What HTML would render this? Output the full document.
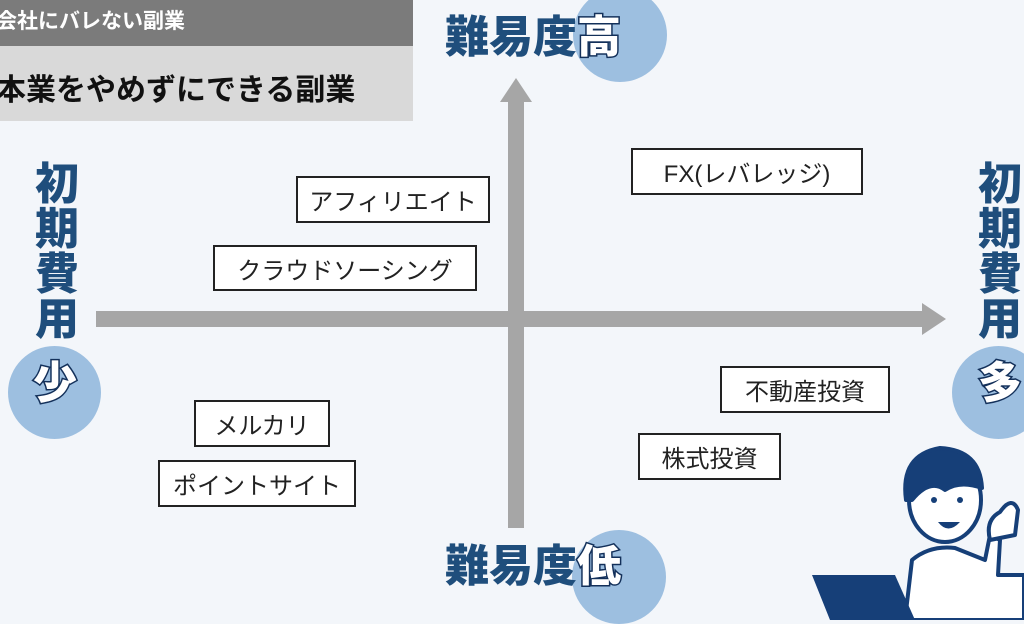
<!DOCTYPE html>
<html><head><meta charset="utf-8"><style>
body{margin:0;width:1024px;height:620px;overflow:hidden;background:#f3f6fa;position:relative;font-family:"Liberation Sans","Noto Sans CJK JP",sans-serif}
.a{position:absolute}
.box{position:absolute;border:2px solid #222;background:#fff;font-size:24px;color:#222;display:flex;align-items:center;justify-content:center;box-sizing:border-box;white-space:nowrap}
.circ{position:absolute;border-radius:50%;background:#9dbfe0}
.t{position:absolute;font-weight:900;color:#1f4e7c;font-size:44px;line-height:1;white-space:nowrap}
.v{position:absolute;font-weight:900;color:#1f4e7c;font-size:44px;line-height:1;width:46px;text-align:center}
.w,.v.w{color:#fff;-webkit-text-stroke:3px #13305a;paint-order:stroke fill}
</style></head><body>
<div class="a" style="left:0;top:0;width:413px;height:46px;background:#7b7b7b"></div>
<div class="a" style="left:0;top:46px;width:413px;height:75px;background:#d9d9d9"></div>
<div class="a" style="left:-4px;top:5px;font-size:21px;font-weight:bold;color:#fff">会社にバレない副業</div>
<div class="a" style="left:-4px;top:65px;font-size:30px;font-weight:bold;color:#111">本業をやめずにできる副業</div>

<div class="circ" style="left:573px;top:-12px;width:94px;height:94px"></div>
<div class="t" style="left:445px;top:16px">難易度<span class="w">高</span></div>
<div class="circ" style="left:572px;top:530px;width:94px;height:94px"></div>
<div class="t" style="left:445px;top:545px">難易度<span class="w">低</span></div>

<div class="circ" style="left:8px;top:346px;width:93px;height:93px"></div>
<div class="v" style="left:34px;top:163px">初</div>
<div class="v" style="left:34px;top:208px">期</div>
<div class="v" style="left:34px;top:253px">費</div>
<div class="v" style="left:34px;top:298px">用</div>
<div class="v w" style="left:32px;top:362px">少</div>
<div class="circ" style="left:952px;top:346px;width:93px;height:93px"></div>
<div class="v" style="left:977px;top:163px">初</div>
<div class="v" style="left:977px;top:208px">期</div>
<div class="v" style="left:977px;top:253px">費</div>
<div class="v" style="left:977px;top:298px">用</div>
<div class="v w" style="left:977px;top:362px">多</div>

<svg class="a" style="left:0;top:0" width="1024" height="620">
<rect x="508" y="100" width="16" height="428" fill="#a6a6a6"/>
<polygon points="516,78 500,102 532,102" fill="#a6a6a6"/>
<rect x="96" y="311" width="830" height="16" fill="#a6a6a6"/>
<polygon points="946,319 922,303 922,335" fill="#a6a6a6"/>
<g stroke="#163f78" stroke-width="4" stroke-linejoin="round">
<path d="M905,620 L912,560 Q930,545 955,548 L985,560 L990,535 L1000,540 L998,575 L1024,575 L1024,620Z" fill="#fff"/>
<ellipse cx="945" cy="500" rx="36" ry="42" fill="#fff"/>
<path d="M906,500 Q900,455 940,448 Q980,450 982,488 Q960,480 945,490 Q930,478 912,500Z" fill="#163f78"/>
<path d="M990,540 Q985,520 1000,512 Q1012,495 1018,510 L1015,535Z" fill="#fff"/>
</g>
<circle cx="934" cy="500" r="3" fill="#163f78"/><circle cx="960" cy="500" r="3" fill="#163f78"/>
<path d="M938,522 Q948,535 960,522Z" fill="#163f78"/>
<polygon points="812,575 895,575 915,620 830,620" fill="#163f78"/>
</svg>

<div class="box" style="left:296px;top:176px;width:194px;height:47px">アフィリエイト</div>
<div class="box" style="left:213px;top:245px;width:264px;height:46px">クラウドソーシング</div>
<div class="box" style="left:631px;top:148px;width:232px;height:47px">FX(レバレッジ)</div>
<div class="box" style="left:720px;top:366px;width:170px;height:47px">不動産投資</div>
<div class="box" style="left:638px;top:433px;width:143px;height:47px">株式投資</div>
<div class="box" style="left:194px;top:400px;width:136px;height:47px">メルカリ</div>
<div class="box" style="left:158px;top:460px;width:198px;height:47px">ポイントサイト</div>
</body></html>
